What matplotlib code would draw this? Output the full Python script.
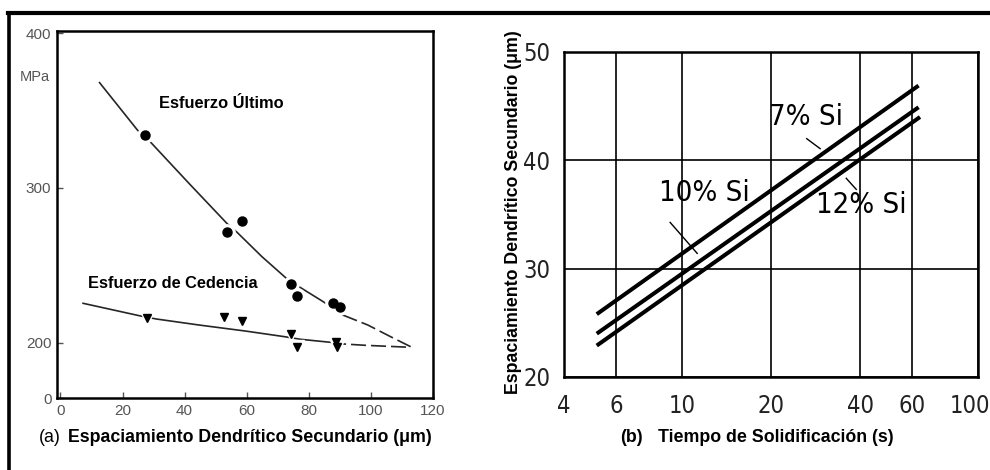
import os
import numpy as np
import matplotlib.pyplot as plt
from matplotlib import font_manager as fm
from matplotlib import transforms as mtrans
from matplotlib.lines import Line2D
from matplotlib.ticker import NullLocator

plt.rcParams['font.family'] = ['Liberation Sans', 'DejaVu Sans']

# (a) tensile data vs. secondary dendrite arm spacing (um), MPa
ult_x = [27.4, 53.6, 58.4, 74.4, 76.3, 87.8, 90.1]
ult_y = [334.2, 271.6, 278.7, 238.1, 230.3, 225.8, 223.2]
yld_x = [28.0, 52.6, 58.4, 74.4, 76.3, 88.8, 89.1]
yld_y = [216.1, 216.8, 214.2, 205.8, 197.4, 200.8, 197.2]

# fitted curves (solid part, then dashed extrapolation)
ult_cx = [12.6, 24.8, 29.3, 41.4, 53.7, 56.8, 64.9, 73.4, 84.6, 91.0]
ult_cy = [368, 337.4, 329, 303, 277, 271.6, 255.7, 240.6, 226.7, 218]
ult_dx = [91.0, 99.0, 106.4, 112.8]
ult_dy = [218, 211.6, 204, 197.6]
yld_cx = [7.3, 25.4, 30.8, 44.6, 59.6, 72.4, 77.2, 87.2]
yld_cy = [225.6, 217.6, 215.5, 211.6, 207.7, 204, 202.4, 200.4]
yld_dx = [87.2, 91.6, 98.2, 112.8]
yld_dy = [200.4, 199.3, 198.5, 197.2]

a_xticks = [0, 20, 40, 60, 80, 100, 120]
a_yticks = [164.5, 200, 300, 400]
a_yticklabels = ['0', '200', '300', '400']

# (b) SDAS vs. solidification time
si_labels = ['7% Si', '10% Si', '12% Si']
t_start = [5.16, 5.16, 5.16]
t_end = [63.0, 63.0, 63.7]
sdas_start = [25.8, 24.0, 22.9]
sdas_end = [46.9, 44.9, 44.0]

b_xticks = [4, 6, 10, 20, 40, 60, 100]
b_yticks = [20, 30, 40, 50]


# the original panel (b) uses a condensed face; take one if installed
def find_narrow():
    prefs = ['liberationsansnarrow-regular', 'dejavusanscondensed.', 'notosans-condensed.',
             'robotocondensed-regular', 'opensans-condensedregular']
    files = [f.fname for f in fm.fontManager.ttflist]
    for p in prefs:
        for fn in files:
            if p in os.path.basename(fn).lower():
                return fn
    return None


nfile = find_narrow()
if nfile:
    bfont = fm.FontProperties(fname=nfile)
    tick_fs, si_fs = 17, 21
else:
    bfont = fm.FontProperties(family='Liberation Sans')
    tick_fs, si_fs = 14, 16

W, H = 990, 470
fig = plt.figure(figsize=(9.9, 4.7), dpi=100)


def fx(px):
    return px / W


def fy(py):
    return 1 - py / H


# ---- panel (a)
ax1 = fig.add_axes([fx(57), fy(398), 376 / W, 367 / H])
lc = '#262626'
ax1.plot(ult_cx, ult_cy, color=lc, lw=1.2)
ax1.plot(ult_dx, ult_dy, color=lc, lw=1.2, dashes=(9, 3))
ax1.plot(yld_cx, yld_cy, color=lc, lw=1.2)
ax1.plot(yld_dx, yld_dy, color=lc, lw=1.2, dashes=(9, 3))

# white halos give the small breaks of the line around each marker
ax1.plot(ult_x, ult_y, 'o', ms=11, color='white', zorder=3)
ax1.plot(yld_x, yld_y, 'v', ms=10, color='white', zorder=3)
ax1.plot(ult_x, ult_y, 'o', ms=6.5, color='black', zorder=4)
ax1.plot(yld_x, yld_y, 'v', ms=6, color='black', zorder=4)

ax1.set_xlim(-1.1, 119.8)
ax1.set_ylim(164.5, 401.3)
ax1.set_xticks(a_xticks)
ax1.set_yticks(a_yticks)
ax1.set_yticklabels(a_yticklabels)
ax1.tick_params(direction='in', length=4, width=1, colors='#555555',
                labelsize=11, pad=4)
for s in ax1.spines.values():
    s.set_linewidth(1.8)
    s.set_color('black')

ax1.text(31.8, 354.8, 'Esfuerzo Último', fontsize=11.8, fontweight='bold', va='center')
ax1.text(8.8, 238.7, 'Esfuerzo de Cedencia', fontsize=11.8, fontweight='bold', va='center')
fig.text(fx(35), fy(77), 'MPa', ha='center', va='center', fontsize=10.5, color='#555555')

fig.text(fx(39), fy(438), '(a)', fontsize=12.8, va='center')
fig.text(fx(68), fy(438), 'Espaciamiento Dendrítico Secundario (μm)', fontsize=12.8,
         fontweight='bold', va='center')

# ---- panel (b)
ax2 = fig.add_axes([fx(564), fy(377), 414 / W, 325 / H])
ax2.set_xscale('log')
ax2.set_xlim(4, 100)
ax2.set_ylim(20, 50)
ax2.set_xticks(b_xticks)
ax2.set_xticklabels([str(v) for v in b_xticks])
ax2.xaxis.set_minor_locator(NullLocator())
ax2.set_yticks(b_yticks)
ax2.set_yticklabels([str(v) for v in b_yticks])
ax2.tick_params(length=0, colors='#222222', labelsize=tick_fs)
ax2.tick_params(axis='x', pad=12)
ax2.tick_params(axis='y', pad=10)
ax2.grid(True, color='black', lw=1.2)
ax2.set_axisbelow(True)
for s in ax2.spines.values():
    s.set_linewidth(1.8)
for lab in ax2.get_xticklabels() + ax2.get_yticklabels():
    lab.set_fontproperties(bfont)
    lab.set_fontsize(tick_fs)
# nudge "100" so it stays inside the picture, as in the original
last = ax2.get_xticklabels()[-1]
last.set_transform(last.get_transform() +
                   mtrans.ScaledTranslation(-6 / 72, 0, fig.dpi_scale_trans))

for i in range(3):
    ax2.plot([t_start[i], t_end[i]], [sdas_start[i], sdas_end[i]], color='black',
             lw=2.9, solid_capstyle='butt', zorder=3)

ax2.text(26.3, 43.97, si_labels[0], fontproperties=bfont, fontsize=si_fs,
         ha='center', va='center')
ax2.plot([26.4, 29.3], [42.0, 41.08], color='black', lw=1)
ax2.text(11.9, 36.95, si_labels[1], fontproperties=bfont, fontsize=si_fs,
         ha='center', va='center')
ax2.plot([9.13, 11.27], [34.27, 31.41], color='black', lw=1)
ax2.text(40.3, 35.84, si_labels[2], fontproperties=bfont, fontsize=si_fs,
         ha='center', va='center')
ax2.plot([35.9, 38.8], [38.34, 37.32], color='black', lw=1)

fig.text(fx(513), fy(212), 'Espaciamiento Dendrítico Secundario (μm)', rotation=90,
         fontsize=12.8, fontweight='bold', ha='center', va='center')
fig.text(fx(620), fy(438), '(b)', fontsize=12.8, fontweight='bold', va='center')
fig.text(fx(658), fy(438), 'Tiempo de Solidificación (s)', fontsize=12.8,
         fontweight='bold', va='center')

# outer frame (top and left edges only)
fig.add_artist(Line2D([fx(8), 1], [fy(13), fy(13)], transform=fig.transFigure,
                      color='black', lw=3))
fig.add_artist(Line2D([fx(9), fx(9)], [0, fy(13)], transform=fig.transFigure,
                      color='black', lw=2.6))

fig.savefig('out.png', dpi=100)
